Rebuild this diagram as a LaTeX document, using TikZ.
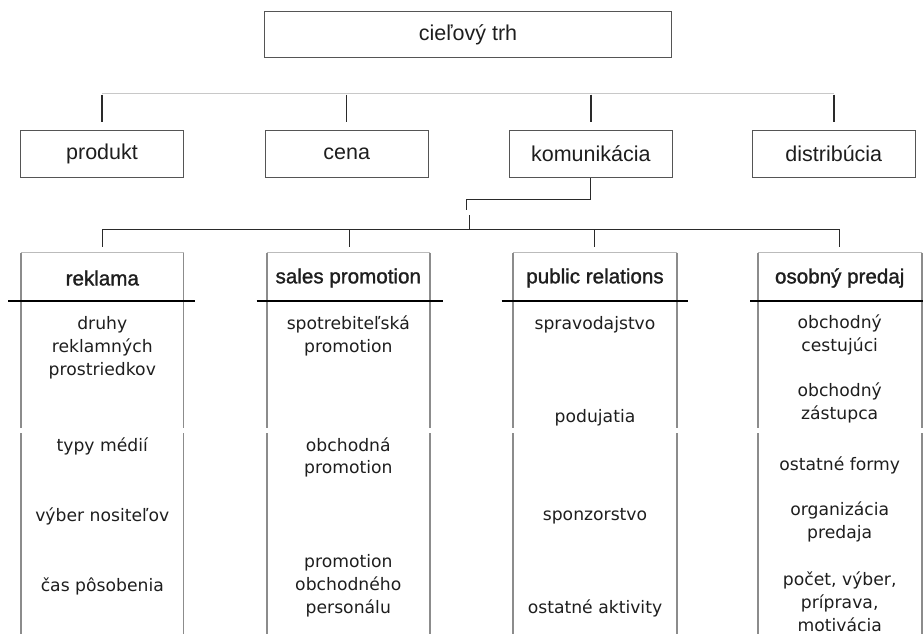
\documentclass[tikz,border=0pt]{standalone}
\usepackage{fontspec}
\setmainfont{Liberation Sans}
\newfontfamily\itemfont{DejaVu Sans}
\newfontfamily\hdfont[FakeBold=1.3]{Liberation Sans}
\definecolor{boxline}{HTML}{555555}
\definecolor{busgray}{HTML}{C8C8C8}
\definecolor{stem}{HTML}{2A2A2A}
\definecolor{colside}{HTML}{8C8C8C}
\definecolor{coltop}{HTML}{BBBBBB}
\definecolor{txt}{HTML}{1E1E1E}
\tikzset{
  topbox/.style={draw=boxline, line width=1.1pt, minimum width=406.7pt, minimum height=45.6pt, inner sep=0pt, font=\fontsize{21.5}{24}\selectfont, text=txt},
  midbox/.style={draw=boxline, line width=1.1pt, minimum width=162.7pt, minimum height=47.7pt, inner sep=0pt, font=\fontsize{21.5}{24}\selectfont, text=txt},
  stemline/.style={draw=stem, line width=1.5pt},
  busline/.style={draw=busgray, line width=1.5pt},
  lowbus/.style={draw=stem, line width=1.3pt},
  sideline/.style={draw=colside, line width=1.8pt},
  topline/.style={draw=coltop, line width=1pt},
  underline/.style={draw=black, line width=2.6pt},
  header/.style={inner sep=0pt, font=\hdfont\fontsize{20.6}{24}\selectfont, text=txt},
  item/.style={inner sep=0pt, align=center, font=\itemfont\fontsize{17.2}{22.8}\selectfont, text=txt}
}
\begin{document}
\begin{tikzpicture}[x=1pt,y=1pt]
\useasboundingbox (0,0) rectangle (923,-634);
% top level
\node[topbox] (trh) at (468,-34.5) {cieľový trh};
\node[midbox] (prod) at (102,-153.9) {produkt};
\node[midbox] (cena) at (346.7,-153.9) {cena};
\node[midbox] (kom) at (590.8,-153.9) {komunikácia};
\node[midbox] (dist) at (833.8,-153.9) {distribúcia};
% top bus (not attached to the top box)
\draw[busline] ([yshift=36pt]prod.north) -- ([yshift=36pt]dist.north);
\foreach \n in {prod,cena,kom,dist}
  \draw[stemline] ([yshift=35pt]\n.north) -- ([yshift=7.5pt]\n.north);
% komunikacia connector
\coordinate (k1) at (466.7,-210);
\coordinate (k2) at (469.3,-215);
\coordinate (k3) at (469.3,-229.3);
\draw[lowbus] (kom.south) -- ++(0,-21.5) -| (k1);
\draw[lowbus] (k2) -- (k3);
% column headers
\node[header] (h1) at (102.3,-278) {reklama};
\node[header] (h2) at (348.3,-278) {sales promotion};
\node[header] (h3) at (595,-278) {public relations};
\node[header] (h4) at (839.7,-278) {osobný predaj};
% lower bus
\coordinate (b1) at (102.7,-229.3);
\coordinate (b4) at (839.3,-229.3);
\draw[lowbus] (b1) -- (b4);
\foreach \h/\x in {h1/102.7,h2/349.3,h3/594.3,h4/839.3}
  \draw[stemline] (\x,-229.3) -- (\x,-246.7);
% columns: left, right, underline left, underline right
\foreach \L/\R/\uL/\uR in {21/183.5/8/195, 266.7/430/256.7/443.3, 513.3/676.7/501.7/688.3, 757.7/921.7/750/923}{
  \draw[topline] (\L,-252.7) -- (\R,-252.7);
  \draw[sideline] (\L,-252.7) -- (\L,-428) (\R,-252.7) -- (\R,-428);
  \draw[sideline] (\L,-433) -- (\L,-634) (\R,-433) -- (\R,-634);
  \draw[underline] (\uL,-300.8) -- (\uR,-300.8);
}
% items
\node[item] (r1) at (102.3,-347.5) {druhy\\reklamných\\prostriedkov};
\node[item] (r2) at (102.3,-446) {typy médií};
\node[item] (r3) at (102.3,-516) {výber nositeľov};
\node[item] (r4) at (102.3,-586) {čas pôsobenia};
\node[item] (s1) at (348.3,-336) {spotrebiteľská\\promotion};
\node[item] (s2) at (348.3,-457.5) {obchodná\\promotion};
\node[item] (s3) at (348.3,-586) {promotion\\obchodného\\personálu};
\node[item] (p1) at (595,-325) {spravodajstvo};
\node[item] (p2) at (595,-417.3) {podujatia};
\node[item] (p3) at (595,-516) {sponzorstvo};
\node[item] (p4) at (595,-608) {ostatné aktivity};
\node[item] (o1) at (839.7,-335) {obchodný\\cestujúci};
\node[item] (o2) at (839.7,-403) {obchodný\\zástupca};
\node[item] (o3) at (839.7,-465) {ostatné formy};
\node[item] (o4) at (839.7,-521.7) {organizácia\\predaja};
\node[item] (o5) at (839.7,-602) {počet, výber,\\príprava,\\motivácia};
\end{tikzpicture}
\end{document}
